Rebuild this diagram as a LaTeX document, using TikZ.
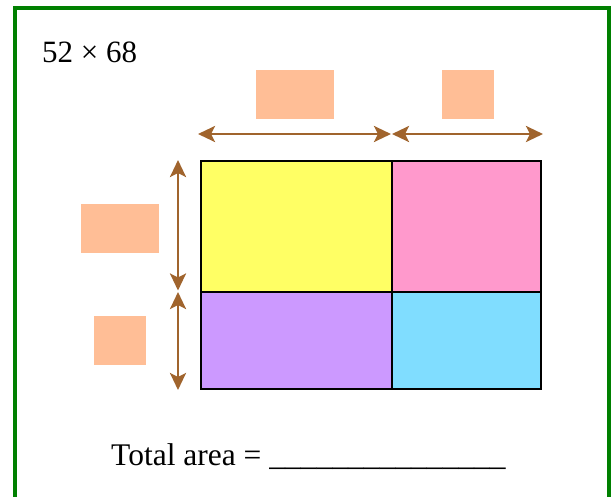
\documentclass[tikz,border=0pt]{standalone}
\usepackage{fontspec}
\setmainfont{Liberation Serif}
\usetikzlibrary{arrows.meta}
\definecolor{frameg}{RGB}{0,128,0}
\definecolor{cyel}{RGB}{255,255,100}
\definecolor{cpink}{RGB}{255,153,204}
\definecolor{cpurp}{RGB}{204,153,255}
\definecolor{cblue}{RGB}{128,221,255}
\definecolor{salmon}{RGB}{255,190,150}
\definecolor{brownarr}{RGB}{160,100,45}
\tikzset{
  cell/.style={draw=black, line width=2pt, inner sep=0pt, anchor=north west},
  blank/.style={fill=salmon, inner sep=0pt, anchor=north west},
  dim/.style={draw=brownarr, line width=2.8pt, {Stealth[length=17pt,width=16pt,inset=4pt]}-{Stealth[length=17pt,width=16pt,inset=4pt]}},
  lbl/.style={inner sep=0pt, anchor=base west}
}
\begin{document}
\begin{tikzpicture}[x=1pt,y=-1pt]
\useasboundingbox (0,0) rectangle (611,496);
\clip (0,0) rectangle (611,496);
\fill[white] (0,0) rectangle (611,496);
\draw[frameg, line width=4pt] (15,8) rectangle (609,530);
\node[lbl] (title) at (42,62) {\fontsize{31}{37}\selectfont 52 × 68};
% cells
\node[cell, fill=cyel, minimum width=191pt, minimum height=131pt] (a) at (200,160) {};
\node[cell, fill=cpink, minimum width=149pt, minimum height=131pt] (b) at (391,160) {};
\node[cell, fill=cpurp, minimum width=191pt, minimum height=97pt] (c) at (200,291) {};
\node[cell, fill=cblue, minimum width=149pt, minimum height=97pt] (d) at (391,291) {};
% blanks
\node[blank, minimum width=78pt, minimum height=49pt] (t1) at (256,70) {};
\node[blank, minimum width=52pt, minimum height=49pt] (t2) at (442,70) {};
\node[blank, minimum width=78pt, minimum height=49pt] (l1) at (81,204) {};
\node[blank, minimum width=52pt, minimum height=49pt] (l2) at (94,316) {};
% dimension arrows
\coordinate (h0) at (198,134);
\coordinate (h1) at (391,134);
\coordinate (h2) at (392,134);
\coordinate (h3) at (543,134);
\coordinate (v0) at (178,160);
\coordinate (v1) at (178,290.5);
\coordinate (v2) at (178,292);
\coordinate (v3) at (178,390);
\draw[dim] (h0) -- (h1);
\draw[dim] (h2) -- (h3);
\draw[dim] (v0) -- (v1);
\draw[dim] (v2) -- (v3);
\node[lbl] (total) at (111,465) {\fontsize{31.5}{38}\selectfont Total area = \_\_\_\_\_\_\_\_\_\_\_\_\_\_\_};
\end{tikzpicture}
\end{document}
